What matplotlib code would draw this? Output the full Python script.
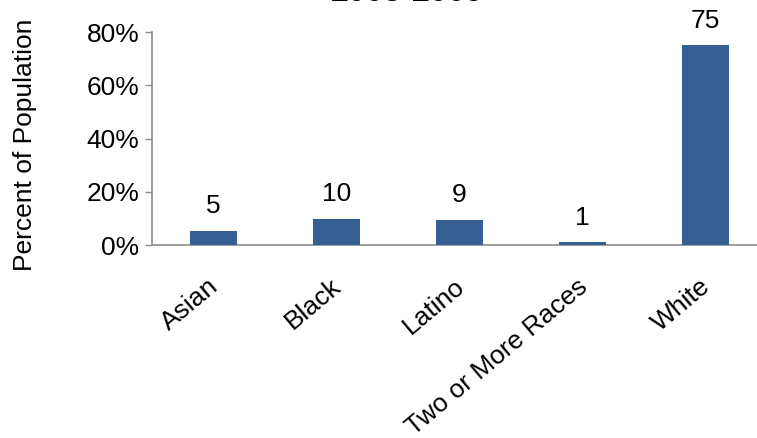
import matplotlib
matplotlib.use("Agg")
import matplotlib.pyplot as plt
import matplotlib.transforms as mtransforms
from matplotlib.ticker import FuncFormatter

plt.rcParams["font.family"] = ["Liberation Sans", "DejaVu Sans"]

categories = ["Asian", "Black", "Latino", "Two or More Races", "White"]
values = [5.3, 9.8, 9.4, 1.1, 75.0]
labels = ["5", "10", "9", "1", "75"]

BAR = "#375F93"
AXIS = "#8C8C8C"
FS = 19

fig = plt.figure(figsize=(7.57, 4.38), dpi=100)
# axes deliberately extend past the right edge, as in the reference
ax = fig.add_axes([152 / 757, 1 - 245 / 438, 615 / 757, 213 / 438])

x = range(len(categories))
ax.bar(x, values, width=0.39, color=BAR, zorder=3)
for xi, v, lab in zip(x, values, labels):
    ax.annotate(lab, (xi, v), textcoords="offset points", xytext=(0, 9),
                ha="center", va="bottom", fontsize=FS)

ax.set_xlim(-0.5, 4.5)
ax.set_ylim(0, 80)
ax.set_yticks([0, 20, 40, 60, 80])
ax.yaxis.set_major_formatter(FuncFormatter(lambda v, _: f"{v:.0f}%"))
ax.set_xticks(list(x))
ax.set_xticklabels(categories, rotation=40, ha="right", rotation_mode="anchor",
                   fontsize=FS)
ax.tick_params(axis="x", length=0, pad=21)
shift = mtransforms.ScaledTranslation(-6 / 100, 0, fig.dpi_scale_trans)
for lbl in ax.get_xticklabels():
    lbl.set_transform(lbl.get_transform() + shift)
ax.tick_params(axis="y", length=5, width=1, color=AXIS, labelsize=FS, pad=4)
for side in ("top", "right"):
    ax.spines[side].set_visible(False)
for side in ("left", "bottom"):
    ax.spines[side].set_color(AXIS)
    ax.spines[side].set_linewidth(1.2)

ax.set_ylabel("Percent of Population", fontsize=FS)
ax.yaxis.set_label_coords(-115 / 615, 0.47)

fig.text(407 / 757, 1 - 8 / 438, "2005-2009", ha="center", va="bottom",
         fontsize=23, fontweight="bold")

fig.savefig("out.png", dpi=100)
